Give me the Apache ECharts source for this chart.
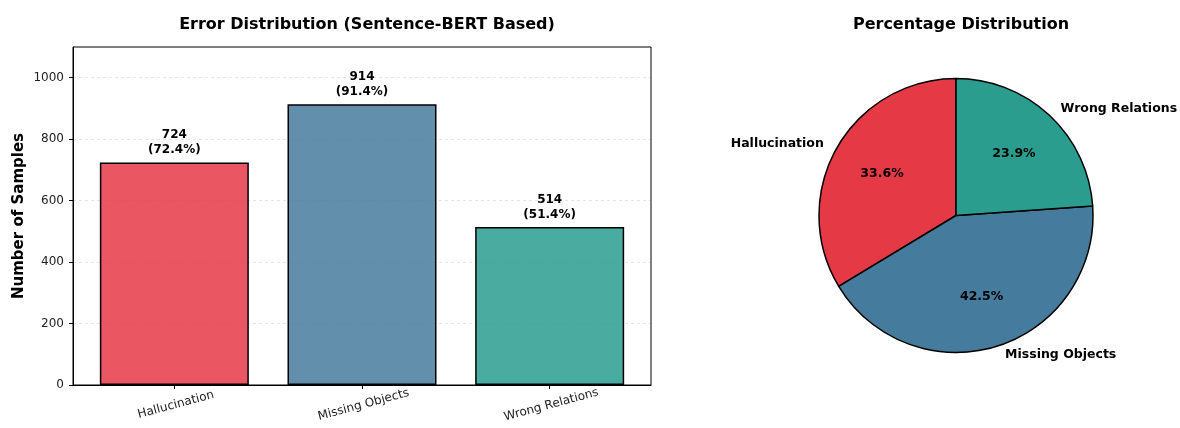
<!DOCTYPE html>
<html>
<head>
<meta charset="utf-8">
<script src="https://cdn.jsdelivr.net/npm/echarts@6/dist/echarts.min.js"></script>
<style>
  html, body { margin: 0; padding: 0; background: #fff; }
  #chart { width: 1180px; height: 428px; }
</style>
</head>
<body>
<div id="chart"></div>
<script>
const categories = ['Hallucination', 'Missing Objects', 'Wrong Relations']
const counts = [724, 914, 514]
const totalSamples = 1000
const pieColors = ['#E63946', '#457B9D', '#2A9D8F']
const barColors = ['rgba(230,57,70,0.85)', 'rgba(69,123,157,0.85)', 'rgba(42,157,143,0.85)']
const yTicks = [0, 200, 400, 600, 800, 1000]

const font = 'DejaVu Sans'
const pieTotal = counts.reduce((a, b) => a + b, 0)

const barData = counts.map((v, i) => ({
  value: [i, v],
  itemStyle: { color: barColors[i] }
}))
const pieData = counts.map((v, i) => ({
  name: categories[i],
  value: v,
  itemStyle: { color: pieColors[i] }
}))

const myChart = echarts.init(document.getElementById('chart'), null, { renderer: 'canvas' })
const option = {
  backgroundColor: '#fff',
  animation: false,
  textStyle: { fontFamily: font },
  title: [
    {
      text: 'Error Distribution (Sentence-BERT Based)',
      left: 362, top: 12, textAlign: 'center',
      textStyle: { fontFamily: font, fontSize: 16, fontWeight: 'bold', color: '#000' }
    },
    {
      text: 'Percentage Distribution',
      left: 956, top: 12, textAlign: 'center',
      textStyle: { fontFamily: font, fontSize: 16, fontWeight: 'bold', color: '#000' }
    }
  ],
  grid: {
    left: 73, right: 529, top: 47, bottom: 43,
    show: true, borderColor: '#000', borderWidth: 1, backgroundColor: 'transparent'
  },
  xAxis: {
    type: 'value',
    min: -0.54, max: 2.54,
    axisLine: { show: true, onZero: false, lineStyle: { color: '#000' } },
    axisTick: { show: true, customValues: [0, 1, 2], length: 4, lineStyle: { color: '#000' } },
    splitLine: { show: false },
    axisLabel: {
      customValues: [0, 1, 2],
      formatter: v => categories[Math.round(v)] || '',
      rotate: 15, align: 'center', verticalAlign: 'top', margin: 14,
      fontFamily: font, fontSize: 12, color: '#222'
    }
  },
  yAxis: {
    type: 'value',
    min: 0, max: 1100, interval: 200,
    name: 'Number of Samples',
    nameLocation: 'middle', nameGap: 46,
    nameTextStyle: { fontFamily: font, fontSize: 15, fontWeight: 'bold', color: '#000' },
    axisLine: { show: true, onZero: false, lineStyle: { color: '#000' } },
    axisTick: { show: true, customValues: yTicks, length: 4, lineStyle: { color: '#000' } },
    splitLine: { show: true, lineStyle: { color: 'rgba(128,128,128,0.25)', type: [3, 3], width: 0.8 } },
    axisLabel: {
      customValues: yTicks,
      formatter: v => String(v),
      fontFamily: font, fontSize: 12, color: '#222', margin: 9
    }
  },
  series: [
    {
      type: 'bar',
      data: barData,
      barWidth: 149,
      itemStyle: { borderColor: '#000', borderWidth: 1.5 },
      label: {
        show: true, position: 'top', distance: 5,
        formatter: p => p.value[1] + '\n(' + (p.value[1] / totalSamples * 100).toFixed(1) + '%)',
        fontFamily: font, fontSize: 12, fontWeight: 'bold', color: '#000', lineHeight: 15, align: 'center'
      }
    },
    {
      // percentages, at 0.6 of the radius
      type: 'pie',
      center: [956, 215.5],
      radius: [0, 164],
      startAngle: 90,
      clockwise: false,
      silent: true,
      data: pieData.map(d => ({ name: d.name, value: d.value, itemStyle: { color: 'transparent' } })),
      itemStyle: { borderWidth: 0 },
      label: {
        show: true, position: 'inside',
        formatter: p => (p.value / pieTotal * 100).toFixed(1) + '%',
        fontFamily: font, fontSize: 12.5, fontWeight: 'bold', color: '#000'
      },
      labelLine: { show: false },
      z: 3
    },
    {
      type: 'pie',
      center: [956, 215.5],
      radius: [0, 137],
      startAngle: 90,
      clockwise: false,
      data: pieData,
      itemStyle: { borderColor: '#000', borderWidth: 1.5 },
      label: {
        show: true, position: 'outside', overflow: 'none',
        formatter: '{b}',
        fontFamily: font, fontSize: 12.5, fontWeight: 'bold', color: '#000'
      },
      labelLine: { show: false, length: 9, length2: 0 },
      z: 2
    }
  ]
}
myChart.setOption(option)
</script>
</body>
</html>
